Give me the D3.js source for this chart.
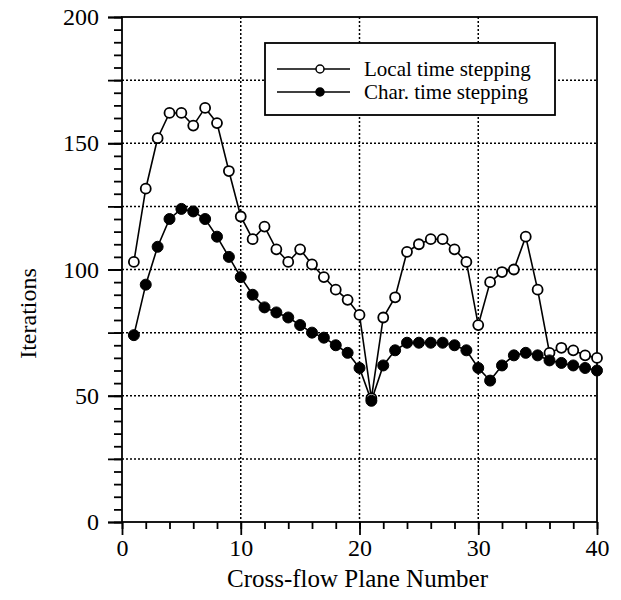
<!DOCTYPE html>
<html>
<head>
<meta charset="utf-8">
<script src="https://cdn.jsdelivr.net/npm/d3@7"></script>
<style>
  html, body { margin: 0; padding: 0; background: #fff; }
  svg { display: block; }
  svg text { font-family: "Liberation Serif", "DejaVu Serif", serif !important; fill: #000; }
</style>
</head>
<body>
<svg id="chart" width="621" height="600" font-family="Liberation Serif, serif"></svg>
<script>
// ---- data ----
const planes = d3.range(1, 41);
const localStepping = [103,132,152,162,162,157,164,158,139,121,112,117,108,103,108,102,97,92,88,82,49,81,89,107,110,112,112,108,103,78,95,99,100,113,92,67,69,68,66,65];
const charStepping  = [74,94,109,120,124,123,120,113,105,97,90,85,83,81,78,75,73,70,67,61,48,62,68,71,71,71,71,70,68,61,56,62,66,67,66,64,63,62,61,60];
const seriesNames = ["Local time stepping", "Char. time stepping"];
const xTickLabels = [0, 10, 20, 30, 40];
const yTickLabels = [0, 50, 100, 150, 200];
const xTitle = "Cross-flow Plane Number";
const yTitle = "Iterations";

// ---- layout ----
const svg = d3.select("#chart");
const L = 122, R = 597, T = 17, B = 522;
const x = d3.scaleLinear().domain([0, 40]).range([L, R]);
const y = d3.scaleLinear().domain([0, 200]).range([B, T]);

// grid
const grid = svg.append("g").attr("stroke", "#000").attr("stroke-width", 1.5)
  .attr("stroke-dasharray", "2,2");
grid.selectAll("line.gy").data(d3.range(25, 200, 25)).join("line")
  .attr("x1", L).attr("x2", R).attr("y1", d => y(d)).attr("y2", d => y(d));
grid.selectAll("line.gx").data([10, 20, 30]).join("line")
  .attr("y1", T).attr("y2", B).attr("x1", d => x(d)).attr("x2", d => x(d));

// frame
svg.append("rect").attr("x", L).attr("y", T).attr("width", R - L).attr("height", B - T)
  .attr("fill", "none").attr("stroke", "#000").attr("stroke-width", 1.8);

// axes
function styleAxis(g) {
  g.attr("font-family", "Liberation Serif, serif");
  g.select(".domain").remove();
  g.selectAll(".tick line").attr("stroke", "#000").attr("stroke-width", 1.8);
  g.selectAll(".tick text").attr("font-size", 24).attr("font-family", "Liberation Serif, serif");
}
// y minor
svg.append("g").attr("transform", `translate(${L},0)`)
  .call(d3.axisLeft(y).tickValues(d3.range(0, 201, 5)).tickSize(8).tickFormat(""))
  .call(styleAxis);
// y major (25s)
svg.append("g").attr("transform", `translate(${L},0)`)
  .call(d3.axisLeft(y).tickValues(d3.range(0, 201, 25)).tickSize(14).tickFormat(""))
  .call(styleAxis);
// y labels
svg.append("g").attr("transform", `translate(${L},0)`)
  .call(d3.axisLeft(y).tickValues(yTickLabels).tickSize(14).tickPadding(9))
  .call(styleAxis);
// x minor
svg.append("g").attr("transform", `translate(0,${B})`)
  .call(d3.axisBottom(x).tickValues(d3.range(0, 41, 2)).tickSize(7).tickFormat(""))
  .call(styleAxis);
// x major labels
svg.append("g").attr("transform", `translate(0,${B})`)
  .call(d3.axisBottom(x).tickValues(xTickLabels).tickSize(13).tickPadding(4))
  .call(styleAxis);

// titles
svg.append("text").attr("x", (L + R) / 2 - 2).attr("y", 587).attr("text-anchor", "middle")
  .attr("font-size", 25).text(xTitle);
svg.append("text").attr("transform", `translate(36,${(T + B) / 2 + 44}) rotate(-90)`)
  .attr("text-anchor", "middle").attr("font-size", 24).text(yTitle);

// lines
const line = d3.line().x((d, i) => x(planes[i])).y(d => y(d));
svg.append("path").datum(localStepping).attr("d", line).attr("fill", "none")
  .attr("stroke", "#000").attr("stroke-width", 1.6);
svg.append("path").datum(charStepping).attr("d", line).attr("fill", "none")
  .attr("stroke", "#000").attr("stroke-width", 1.6);

svg.append("g").selectAll("circle").data(localStepping).join("circle")
  .attr("cx", (d, i) => x(planes[i])).attr("cy", d => y(d)).attr("r", 5)
  .attr("fill", "#fff").attr("stroke", "#000").attr("stroke-width", 1.8);
svg.append("g").selectAll("circle").data(charStepping).join("circle")
  .attr("cx", (d, i) => x(planes[i])).attr("cy", d => y(d)).attr("r", 5.5)
  .attr("fill", "#000").attr("stroke", "#000").attr("stroke-width", 1);

// legend
const lg = svg.append("g");
lg.append("rect").attr("x", 265).attr("y", 43).attr("width", 290).attr("height", 72)
  .attr("fill", "#fff").attr("stroke", "#000").attr("stroke-width", 1.8);
const rows = [{name: seriesNames[0], fill: "#fff", yy: 69}, {name: seriesNames[1], fill: "#000", yy: 92}];
rows.forEach(r => {
  lg.append("line").attr("x1", 277).attr("x2", 350).attr("y1", r.yy).attr("y2", r.yy)
    .attr("stroke", "#000").attr("stroke-width", 1.6);
  lg.append("circle").attr("cx", 320).attr("cy", r.yy).attr("r", 4)
    .attr("fill", r.fill).attr("stroke", "#000").attr("stroke-width", 1.5);
  lg.append("text").attr("x", 364).attr("y", r.yy + 7).attr("font-size", 21).text(r.name);
});
</script>
</body>
</html>
